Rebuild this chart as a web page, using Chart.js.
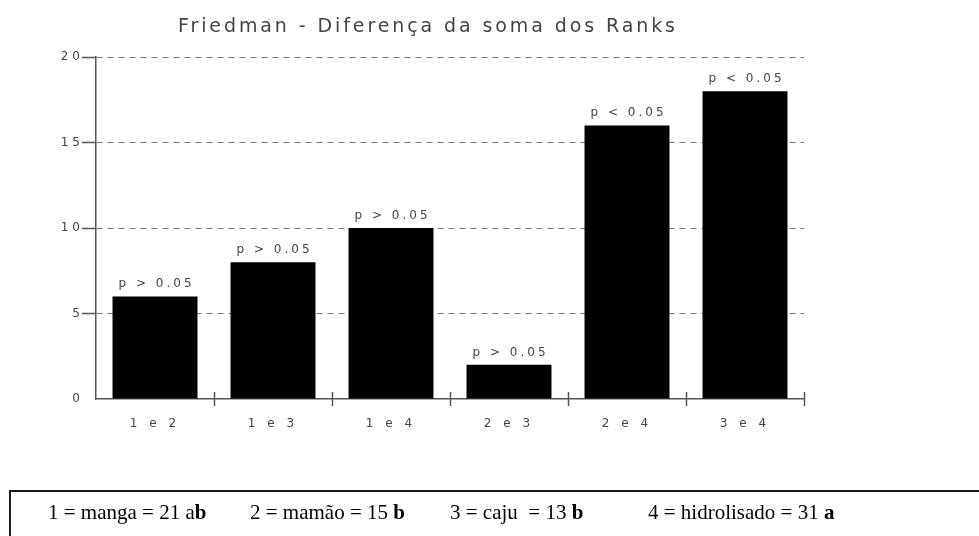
<!DOCTYPE html>
<html><head><meta charset="utf-8">
<script src="https://cdn.jsdelivr.net/npm/chart.js@4.4.0/dist/chart.umd.min.js"></script>
<style>
html,body{margin:0;padding:0;background:#fff;}
#wrap{position:relative;width:979px;height:536px;overflow:hidden;}
canvas{position:absolute;left:0;top:0;}
#box{position:absolute;left:9px;top:490px;width:1100px;height:100px;border:2px solid #1a1a1a;}
.lg{position:absolute;top:500px;font:21px "Liberation Serif","Times New Roman",serif;color:#000;white-space:pre;}
</style></head><body>
<div id="wrap">
<canvas id="c" width="979" height="536"></canvas>
<div id="box"></div>
<div id="legend"></div>
</div>
<script>
const chartTitle = 'Friedman - Diferença da soma dos Ranks';
const categories = ['1 e 2', '1 e 3', '1 e 4', '2 e 3', '2 e 4', '3 e 4'];
const rankDiff = [6, 8, 10, 2, 16, 18];
const pLabels = ['p > 0.05', 'p > 0.05', 'p > 0.05', 'p > 0.05', 'p < 0.05', 'p < 0.05'];
const yMin = 0, yMax = 20, yStep = 5;
const legendText = ['1 = manga = 21 a', '2 = mamão = 15 ', '3 = caju  = 13 ', '4 = hidrolisado = 31 '];
const legendBold = ['b', 'b', 'b', 'a'];
const legendLeft = [48, 250, 450, 648];

const lg = document.getElementById('legend');
legendText.forEach((t, i) => {
  const s = document.createElement('span');
  s.className = 'lg';
  s.style.left = legendLeft[i] + 'px';
  s.textContent = t;
  const b = document.createElement('b');
  b.textContent = legendBold[i];
  s.appendChild(b);
  lg.appendChild(s);
});

const TXT = '#444';
const AXIS = '#555';

const spacingPlugin = {
  id: 'spacing',
  beforeDraw(chart) { chart.ctx.letterSpacing = '4px'; }
};

const titlePlugin = {
  id: 'ttl',
  afterDraw(chart) {
    const ctx = chart.ctx;
    ctx.save();
    ctx.font = '19px "DejaVu Sans", sans-serif';
    ctx.letterSpacing = '0px';
    const w = ctx.measureText(chartTitle).width;
    const target = 497;
    ctx.letterSpacing = ((target - w) / (chartTitle.length - 1)) + 'px';
    ctx.fillStyle = TXT;
    ctx.textAlign = 'left';
    ctx.textBaseline = 'alphabetic';
    ctx.fillText(chartTitle, 178, 32);
    ctx.restore();
  }
};

const barLabelPlugin = {
  id: 'barLabels',
  afterDatasetsDraw(chart) {
    const ctx = chart.ctx;
    const meta = chart.getDatasetMeta(0);
    ctx.save();
    ctx.font = '12px "DejaVu Sans", sans-serif';
    ctx.letterSpacing = '3px';
    ctx.fillStyle = TXT;
    ctx.textAlign = 'center';
    ctx.textBaseline = 'alphabetic';
    meta.data.forEach((el, i) => {
      ctx.fillText(pLabels[i], el.x + 1.5, el.y - 9);
    });
    ctx.restore();
  }
};

const xTickPlugin = {
  id: 'xTicks',
  afterDraw(chart) {
    const ctx = chart.ctx;
    const xs = chart.scales.x;
    const y0 = chart.scales.y.getPixelForValue(yMin);
    ctx.save();
    ctx.strokeStyle = AXIS;
    ctx.lineWidth = 1.5;
    for (let i = 1; i <= categories.length; i++) {
      const px = Math.round(xs.getPixelForValue(i - 0.5)) + 0.5;
      ctx.beginPath();
      ctx.moveTo(px, y0 - 7);
      ctx.lineTo(px, y0 + 7);
      ctx.stroke();
    }
    ctx.restore();
  }
};

new Chart(document.getElementById('c'), {
  type: 'bar',
  data: {
    labels: categories,
    datasets: [{
      data: rankDiff,
      backgroundColor: '#000',
      borderWidth: 0,
      barPercentage: 0.72,
      categoryPercentage: 1
    }]
  },
  options: {
    responsive: false,
    animation: false,
    devicePixelRatio: 1,
    layout: { padding: { top: 57, right: 175, left: 0, bottom: 0 } },
    plugins: { legend: { display: false }, tooltip: { enabled: false }, title: { display: false } },
    scales: {
      x: {
        grid: { display: false },
        border: { display: true, color: AXIS, width: 1.5 },
        ticks: { color: TXT, font: { family: 'DejaVu Sans', size: 12 }, padding: 10, maxRotation: 0 },
        afterFit(s) { s.height = 137; }
      },
      y: {
        min: yMin, max: yMax,
        ticks: { stepSize: yStep, color: TXT, font: { family: 'DejaVu Sans', size: 12 }, padding: -2 },
        grid: {
          color: (c) => c.tick && c.tick.value === yMin ? 'rgba(0,0,0,0)' : '#777',
          lineWidth: 1,
          tickLength: 14,
          tickBorderDash: [],
          tickColor: (c) => c.tick && c.tick.value === yMin ? 'rgba(0,0,0,0)' : AXIS,
          tickWidth: 1.5
        },
        border: { display: true, color: AXIS, width: 1.5, dash: [6, 5] },
        afterFit(s) { s.width = 96; }
      }
    }
  },
  plugins: [spacingPlugin, titlePlugin, barLabelPlugin, xTickPlugin]
});
</script>
</body></html>
